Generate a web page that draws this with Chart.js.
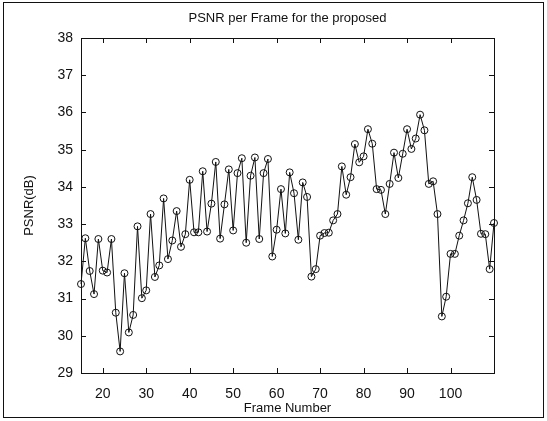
<!DOCTYPE html>
<html>
<head>
<meta charset="utf-8">
<script src="https://cdn.jsdelivr.net/npm/chart.js@4"></script>
<style>
  html, body { margin: 0; padding: 0; background: #fff; }
  canvas { display: block; }
</style>
</head>
<body>
<canvas id="chart" width="547" height="421"></canvas>
<script>
// PSNR of each decoded frame, frames 15..110
const firstFrame = 15;
const psnr = [
  31.39, 32.62, 31.74, 31.12, 32.60, 31.75, 31.70, 32.60, 30.62, 29.58,
  31.68, 30.09, 30.56, 32.94, 31.01, 31.22, 33.27, 31.58, 31.89, 33.69,
  32.06, 32.56, 33.35, 32.39, 32.73, 34.19, 32.78, 32.78, 34.42, 32.80,
  33.55, 34.67, 32.61, 33.53, 34.47, 32.83, 34.37, 34.77, 32.50, 34.30,
  34.79, 32.60, 34.37, 34.75, 32.13, 32.85, 33.94, 32.75, 34.39, 33.83,
  32.58, 34.12, 33.73, 31.59, 31.79, 32.69, 32.76, 32.77, 33.10, 33.27,
  34.55, 33.79, 34.26, 35.15, 34.66, 34.82, 35.55, 35.16, 33.94, 33.92,
  33.27, 34.08, 34.92, 34.24, 34.89, 35.55, 35.02, 35.30, 35.94, 35.52,
  34.08, 34.15, 33.27, 30.52, 31.05, 32.20, 32.20, 32.69, 33.10, 33.56,
  34.26, 33.65, 32.74, 32.73, 31.79, 33.03
];
const xTicks = [20, 30, 40, 50, 60, 70, 80, 90, 100];
const yTicks = [29, 30, 31, 32, 33, 34, 35, 36, 37, 38];

const points = psnr.map((v, i) => ({ x: firstFrame + i, y: v }));
const ink = '#111';
const fontFamily = '"Liberation Sans", Arial, sans-serif';

// axes box with inward ticks on all four sides, plus the figure frame
const boxPlugin = {
  id: 'box',
  beforeDraw(chart) {
    const ctx = chart.ctx;
    ctx.save();
    ctx.fillStyle = '#fff';
    ctx.fillRect(0, 0, chart.width, chart.height);
    ctx.strokeStyle = ink;
    ctx.lineWidth = 1;
    ctx.strokeRect(3.5, 2.5, 540, 415);
    ctx.restore();
  },
  afterDatasetsDraw(chart) {
    const { ctx, chartArea: a, scales } = chart;
    const len = 5;
    ctx.save();
    ctx.strokeStyle = ink;
    ctx.lineWidth = 1;
    ctx.strokeRect(Math.round(a.left) + 0.5, Math.round(a.top) + 0.5,
      Math.round(a.right - a.left), Math.round(a.bottom - a.top));
    ctx.beginPath();
    xTicks.forEach((v) => {
      const px = Math.round(scales.x.getPixelForValue(v)) + 0.5;
      ctx.moveTo(px, a.bottom); ctx.lineTo(px, a.bottom - len);
      ctx.moveTo(px, a.top); ctx.lineTo(px, a.top + len);
    });
    yTicks.forEach((v) => {
      const py = Math.round(scales.y.getPixelForValue(v)) + 0.5;
      ctx.moveTo(a.left, py); ctx.lineTo(a.left + len, py);
      ctx.moveTo(a.right, py); ctx.lineTo(a.right - len, py);
    });
    ctx.stroke();
    ctx.restore();
  }
};

new Chart(document.getElementById('chart'), {
  type: 'line',
  data: {
    datasets: [{
      data: points,
      borderColor: ink,
      borderWidth: 1,
      tension: 0,
      pointRadius: 3.5,
      pointBorderWidth: 1,
      pointBorderColor: ink,
      pointBackgroundColor: 'rgba(0,0,0,0)',
      clip: false
    }]
  },
  options: {
    responsive: false,
    animation: false,
    events: [],
    layout: { padding: { top: 10, right: 53, bottom: 5, left: 0 } },
    plugins: {
      legend: { display: false },
      tooltip: { enabled: false },
      title: {
        display: true,
        fullSize: false,
        text: 'PSNR per Frame for the proposed',
        color: ink,
        font: { family: fontFamily, size: 13, weight: 'normal' },
        padding: { top: 1, bottom: 11.4 }
      }
    },
    scales: {
      x: {
        type: 'linear',
        min: 15,
        max: 110,
        afterBuildTicks: (scale) => { scale.ticks = xTicks.map((v) => ({ value: v })); },
        afterFit: (scale) => { scale.height = 43; },
        grid: { display: false, drawTicks: false },
        border: { display: false },
        ticks: { color: ink, padding: 13, maxRotation: 0, font: { family: fontFamily, size: 14 } },
        title: {
          display: true,
          text: 'Frame Number',
          color: ink,
          padding: { top: 2, bottom: 0 },
          font: { family: fontFamily, size: 13 }
        }
      },
      y: {
        min: 29,
        max: 38,
        afterBuildTicks: (scale) => { scale.ticks = yTicks.map((v) => ({ value: v })); },
        afterFit: (scale) => { scale.width = 81; },
        grid: { display: false, drawTicks: false },
        border: { display: false },
        ticks: { color: ink, padding: 8, font: { family: fontFamily, size: 14 } },
        title: {
          display: true,
          text: 'PSNR(dB)',
          color: ink,
          padding: { top: 22, bottom: 0 },
          font: { family: fontFamily, size: 13 }
        }
      }
    }
  },
  plugins: [boxPlugin]
});
</script>
</body>
</html>
